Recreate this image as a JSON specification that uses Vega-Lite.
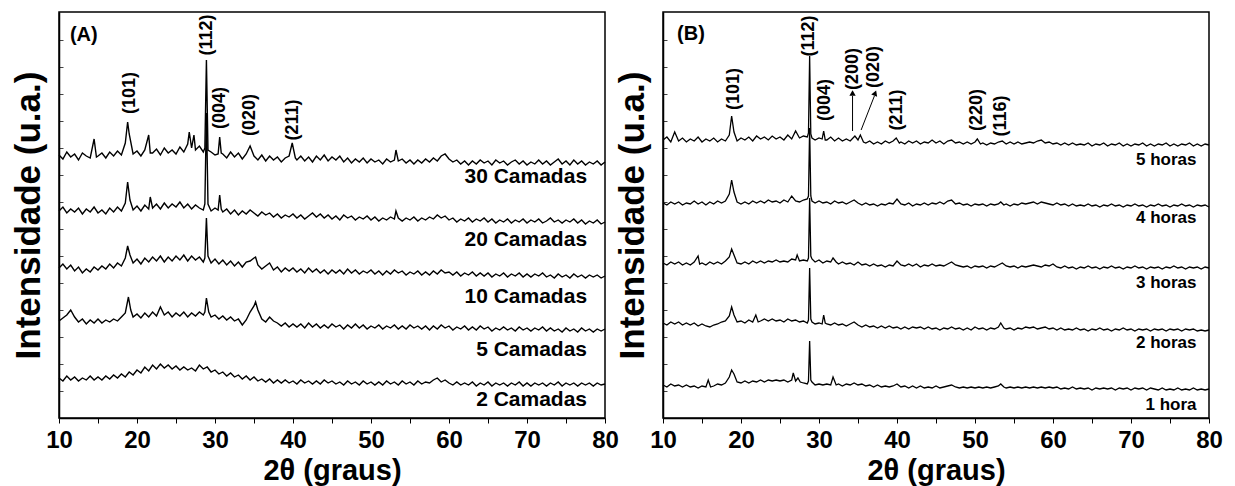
{
"$schema":"https://vega.github.io/schema/vega-lite/v6.json",
"padding":{"left":10,"top":11,"right":20,"bottom":0},
"config":{"font":"Liberation Sans","view":{"stroke":"black","strokeWidth":1.5},"text":{"fontWeight":"bold","color":"black","font":"Liberation Sans"}},
"datasets":{
"A":[
{"s":1,"x":10,"y":263},{"s":1,"x":10.5,"y":259},{"s":1,"x":11,"y":266},{"s":1,"x":11.5,"y":261},{"s":1,"x":12,"y":264},{"s":1,"x":12.5,"y":258},{"s":1,"x":13,"y":265},{"s":1,"x":13.5,"y":262},{"s":1,"x":14,"y":260},{"s":1,"x":14.5,"y":279},{"s":1,"x":14.8,"y":261},{"s":1,"x":15,"y":262},{"s":1,"x":15.5,"y":265},{"s":1,"x":16,"y":260},{"s":1,"x":16.5,"y":266},{"s":1,"x":17,"y":262},{"s":1,"x":17.5,"y":267},{"s":1,"x":18,"y":263},{"s":1,"x":18.5,"y":275},{"s":1,"x":18.8,"y":296},{"s":1,"x":19,"y":284},{"s":1,"x":19.5,"y":264},{"s":1,"x":20,"y":267},{"s":1,"x":20.5,"y":262},{"s":1,"x":21,"y":268},{"s":1,"x":21.5,"y":283},{"s":1,"x":21.7,"y":265},{"s":1,"x":22,"y":265},{"s":1,"x":22.5,"y":269},{"s":1,"x":23,"y":263},{"s":1,"x":23.5,"y":270},{"s":1,"x":24,"y":265},{"s":1,"x":24.5,"y":268},{"s":1,"x":25,"y":264},{"s":1,"x":25.5,"y":271},{"s":1,"x":26,"y":266},{"s":1,"x":26.5,"y":274},{"s":1,"x":26.7,"y":286},{"s":1,"x":27,"y":270},{"s":1,"x":27.3,"y":283},{"s":1,"x":27.5,"y":268},{"s":1,"x":28,"y":272},{"s":1,"x":28.5,"y":266},{"s":1,"x":28.7,"y":270},{"s":1,"x":28.9,"y":358},{"s":1,"x":29.1,"y":268},{"s":1,"x":29.5,"y":266},{"s":1,"x":30,"y":263},{"s":1,"x":30.4,"y":264},{"s":1,"x":30.6,"y":281},{"s":1,"x":30.8,"y":265},{"s":1,"x":31,"y":264},{"s":1,"x":31.5,"y":260},{"s":1,"x":32,"y":266},{"s":1,"x":32.5,"y":261},{"s":1,"x":33,"y":265},{"s":1,"x":33.5,"y":259},{"s":1,"x":34,"y":264},{"s":1,"x":34.5,"y":272},{"s":1,"x":35,"y":262},{"s":1,"x":35.5,"y":258},{"s":1,"x":36,"y":263},{"s":1,"x":36.5,"y":257},{"s":1,"x":37,"y":262},{"s":1,"x":37.5,"y":258},{"s":1,"x":38,"y":261},{"s":1,"x":38.5,"y":256},{"s":1,"x":39,"y":260},{"s":1,"x":39.5,"y":262},{"s":1,"x":39.9,"y":275},{"s":1,"x":40.3,"y":260},{"s":1,"x":40.5,"y":258},{"s":1,"x":41,"y":262},{"s":1,"x":41.5,"y":257},{"s":1,"x":42,"y":261},{"s":1,"x":42.5,"y":256},{"s":1,"x":43,"y":262},{"s":1,"x":43.5,"y":258},{"s":1,"x":44,"y":263},{"s":1,"x":44.5,"y":257},{"s":1,"x":45,"y":261},{"s":1,"x":45.5,"y":258},{"s":1,"x":46,"y":262},{"s":1,"x":46.5,"y":256},{"s":1,"x":47,"y":260},{"s":1,"x":47.5,"y":255},{"s":1,"x":48,"y":259},{"s":1,"x":48.5,"y":256},{"s":1,"x":49,"y":260},{"s":1,"x":49.5,"y":255},{"s":1,"x":50,"y":259},{"s":1,"x":50.5,"y":256},{"s":1,"x":51,"y":258},{"s":1,"x":51.5,"y":254},{"s":1,"x":52,"y":259},{"s":1,"x":52.5,"y":256},{"s":1,"x":53,"y":258},{"s":1,"x":53.2,"y":268},{"s":1,"x":53.5,"y":257},{"s":1,"x":54,"y":259},{"s":1,"x":54.5,"y":255},{"s":1,"x":55,"y":258},{"s":1,"x":55.5,"y":254},{"s":1,"x":56,"y":258},{"s":1,"x":56.5,"y":255},{"s":1,"x":57,"y":259},{"s":1,"x":57.5,"y":256},{"s":1,"x":58,"y":260},{"s":1,"x":58.5,"y":257},{"s":1,"x":59,"y":262},{"s":1,"x":59.5,"y":264},{"s":1,"x":60,"y":259},{"s":1,"x":60.5,"y":256},{"s":1,"x":61,"y":258},{"s":1,"x":61.5,"y":254},{"s":1,"x":62,"y":257},{"s":1,"x":62.5,"y":253},{"s":1,"x":63,"y":257},{"s":1,"x":63.5,"y":254},{"s":1,"x":64,"y":258},{"s":1,"x":64.5,"y":255},{"s":1,"x":65,"y":257},{"s":1,"x":65.5,"y":253},{"s":1,"x":66,"y":258},{"s":1,"x":66.5,"y":255},{"s":1,"x":67,"y":257},{"s":1,"x":67.5,"y":253},{"s":1,"x":68,"y":256},{"s":1,"x":68.5,"y":258},{"s":1,"x":69,"y":254},{"s":1,"x":69.5,"y":257},{"s":1,"x":70,"y":253},{"s":1,"x":70.5,"y":256},{"s":1,"x":71,"y":254},{"s":1,"x":71.5,"y":258},{"s":1,"x":72,"y":254},{"s":1,"x":72.5,"y":257},{"s":1,"x":73,"y":253},{"s":1,"x":73.5,"y":256},{"s":1,"x":74,"y":259},{"s":1,"x":74.5,"y":254},{"s":1,"x":75,"y":257},{"s":1,"x":75.5,"y":253},{"s":1,"x":76,"y":258},{"s":1,"x":76.5,"y":254},{"s":1,"x":77,"y":257},{"s":1,"x":77.5,"y":253},{"s":1,"x":78,"y":256},{"s":1,"x":78.5,"y":254},{"s":1,"x":79,"y":257},{"s":1,"x":79.5,"y":253},{"s":1,"x":80,"y":256},
{"s":2,"x":10,"y":207},{"s":2,"x":10.5,"y":211},{"s":2,"x":11,"y":205},{"s":2,"x":11.5,"y":209},{"s":2,"x":12,"y":206},{"s":2,"x":12.5,"y":210},{"s":2,"x":13,"y":204},{"s":2,"x":13.5,"y":209},{"s":2,"x":14,"y":206},{"s":2,"x":14.5,"y":211},{"s":2,"x":15,"y":205},{"s":2,"x":15.5,"y":208},{"s":2,"x":16,"y":204},{"s":2,"x":16.5,"y":210},{"s":2,"x":17,"y":206},{"s":2,"x":17.5,"y":211},{"s":2,"x":18,"y":207},{"s":2,"x":18.5,"y":215},{"s":2,"x":18.8,"y":236},{"s":2,"x":19.1,"y":218},{"s":2,"x":19.5,"y":208},{"s":2,"x":20,"y":212},{"s":2,"x":20.5,"y":207},{"s":2,"x":21,"y":213},{"s":2,"x":21.5,"y":209},{"s":2,"x":21.7,"y":221},{"s":2,"x":22,"y":210},{"s":2,"x":22.5,"y":214},{"s":2,"x":23,"y":209},{"s":2,"x":23.5,"y":215},{"s":2,"x":24,"y":210},{"s":2,"x":24.5,"y":214},{"s":2,"x":25,"y":211},{"s":2,"x":25.5,"y":216},{"s":2,"x":26,"y":210},{"s":2,"x":26.5,"y":214},{"s":2,"x":27,"y":209},{"s":2,"x":27.5,"y":213},{"s":2,"x":28,"y":210},{"s":2,"x":28.5,"y":208},{"s":2,"x":28.7,"y":214},{"s":2,"x":28.9,"y":305},{"s":2,"x":29.1,"y":214},{"s":2,"x":29.5,"y":207},{"s":2,"x":30,"y":210},{"s":2,"x":30.4,"y":208},{"s":2,"x":30.6,"y":223},{"s":2,"x":30.8,"y":209},{"s":2,"x":31,"y":206},{"s":2,"x":31.5,"y":209},{"s":2,"x":32,"y":204},{"s":2,"x":32.5,"y":208},{"s":2,"x":33,"y":203},{"s":2,"x":33.5,"y":207},{"s":2,"x":34,"y":204},{"s":2,"x":34.5,"y":208},{"s":2,"x":35,"y":205},{"s":2,"x":35.5,"y":202},{"s":2,"x":36,"y":206},{"s":2,"x":36.5,"y":203},{"s":2,"x":37,"y":205},{"s":2,"x":37.5,"y":201},{"s":2,"x":38,"y":204},{"s":2,"x":38.5,"y":200},{"s":2,"x":39,"y":203},{"s":2,"x":39.5,"y":201},{"s":2,"x":40,"y":204},{"s":2,"x":40.5,"y":200},{"s":2,"x":41,"y":203},{"s":2,"x":41.5,"y":199},{"s":2,"x":42,"y":202},{"s":2,"x":42.5,"y":205},{"s":2,"x":43,"y":201},{"s":2,"x":43.5,"y":204},{"s":2,"x":44,"y":200},{"s":2,"x":44.5,"y":203},{"s":2,"x":45,"y":199},{"s":2,"x":45.5,"y":202},{"s":2,"x":46,"y":198},{"s":2,"x":46.5,"y":203},{"s":2,"x":47,"y":200},{"s":2,"x":47.5,"y":202},{"s":2,"x":48,"y":198},{"s":2,"x":48.5,"y":201},{"s":2,"x":49,"y":199},{"s":2,"x":49.5,"y":202},{"s":2,"x":50,"y":198},{"s":2,"x":50.5,"y":201},{"s":2,"x":51,"y":197},{"s":2,"x":51.5,"y":200},{"s":2,"x":52,"y":198},{"s":2,"x":52.5,"y":201},{"s":2,"x":53,"y":199},{"s":2,"x":53.2,"y":207},{"s":2,"x":53.5,"y":200},{"s":2,"x":54,"y":197},{"s":2,"x":54.5,"y":200},{"s":2,"x":55,"y":198},{"s":2,"x":55.5,"y":201},{"s":2,"x":56,"y":197},{"s":2,"x":56.5,"y":200},{"s":2,"x":57,"y":198},{"s":2,"x":57.5,"y":201},{"s":2,"x":58,"y":199},{"s":2,"x":58.5,"y":203},{"s":2,"x":59,"y":200},{"s":2,"x":59.5,"y":202},{"s":2,"x":60,"y":198},{"s":2,"x":60.5,"y":200},{"s":2,"x":61,"y":196},{"s":2,"x":61.5,"y":199},{"s":2,"x":62,"y":197},{"s":2,"x":62.5,"y":200},{"s":2,"x":63,"y":196},{"s":2,"x":63.5,"y":199},{"s":2,"x":64,"y":197},{"s":2,"x":64.5,"y":200},{"s":2,"x":65,"y":196},{"s":2,"x":65.5,"y":199},{"s":2,"x":66,"y":195},{"s":2,"x":66.5,"y":198},{"s":2,"x":67,"y":196},{"s":2,"x":67.5,"y":199},{"s":2,"x":68,"y":195},{"s":2,"x":68.5,"y":198},{"s":2,"x":69,"y":196},{"s":2,"x":69.5,"y":199},{"s":2,"x":70,"y":195},{"s":2,"x":70.5,"y":198},{"s":2,"x":71,"y":196},{"s":2,"x":71.5,"y":199},{"s":2,"x":72,"y":195},{"s":2,"x":72.5,"y":197},{"s":2,"x":73,"y":200},{"s":2,"x":73.5,"y":196},{"s":2,"x":74,"y":198},{"s":2,"x":74.5,"y":195},{"s":2,"x":75,"y":198},{"s":2,"x":75.5,"y":196},{"s":2,"x":76,"y":199},{"s":2,"x":76.5,"y":195},{"s":2,"x":77,"y":198},{"s":2,"x":77.5,"y":194},{"s":2,"x":78,"y":197},{"s":2,"x":78.5,"y":195},{"s":2,"x":79,"y":198},{"s":2,"x":79.5,"y":194},{"s":2,"x":80,"y":196},
{"s":3,"x":10,"y":150},{"s":3,"x":10.5,"y":154},{"s":3,"x":11,"y":149},{"s":3,"x":11.5,"y":153},{"s":3,"x":12,"y":147},{"s":3,"x":12.5,"y":151},{"s":3,"x":13,"y":145},{"s":3,"x":13.5,"y":149},{"s":3,"x":14,"y":146},{"s":3,"x":14.5,"y":151},{"s":3,"x":15,"y":148},{"s":3,"x":15.5,"y":152},{"s":3,"x":16,"y":149},{"s":3,"x":16.5,"y":154},{"s":3,"x":17,"y":150},{"s":3,"x":17.5,"y":155},{"s":3,"x":18,"y":152},{"s":3,"x":18.5,"y":160},{"s":3,"x":18.8,"y":172},{"s":3,"x":19.1,"y":163},{"s":3,"x":19.5,"y":155},{"s":3,"x":20,"y":159},{"s":3,"x":20.5,"y":154},{"s":3,"x":21,"y":160},{"s":3,"x":21.5,"y":156},{"s":3,"x":22,"y":161},{"s":3,"x":22.5,"y":157},{"s":3,"x":23,"y":162},{"s":3,"x":23.5,"y":156},{"s":3,"x":24,"y":161},{"s":3,"x":24.5,"y":157},{"s":3,"x":25,"y":162},{"s":3,"x":25.5,"y":158},{"s":3,"x":26,"y":163},{"s":3,"x":26.5,"y":157},{"s":3,"x":27,"y":162},{"s":3,"x":27.5,"y":158},{"s":3,"x":28,"y":161},{"s":3,"x":28.5,"y":156},{"s":3,"x":28.7,"y":160},{"s":3,"x":28.9,"y":200},{"s":3,"x":29.1,"y":162},{"s":3,"x":29.5,"y":155},{"s":3,"x":30,"y":159},{"s":3,"x":30.5,"y":154},{"s":3,"x":31,"y":158},{"s":3,"x":31.5,"y":153},{"s":3,"x":32,"y":157},{"s":3,"x":32.5,"y":152},{"s":3,"x":33,"y":156},{"s":3,"x":33.5,"y":151},{"s":3,"x":34,"y":156},{"s":3,"x":34.5,"y":157},{"s":3,"x":35,"y":160},{"s":3,"x":35.2,"y":161},{"s":3,"x":35.5,"y":153},{"s":3,"x":36,"y":149},{"s":3,"x":36.5,"y":152},{"s":3,"x":37,"y":155},{"s":3,"x":37.5,"y":148},{"s":3,"x":38,"y":151},{"s":3,"x":38.5,"y":146},{"s":3,"x":39,"y":150},{"s":3,"x":39.5,"y":147},{"s":3,"x":40,"y":150},{"s":3,"x":40.5,"y":146},{"s":3,"x":41,"y":149},{"s":3,"x":41.5,"y":145},{"s":3,"x":42,"y":150},{"s":3,"x":42.5,"y":146},{"s":3,"x":43,"y":149},{"s":3,"x":43.5,"y":145},{"s":3,"x":44,"y":148},{"s":3,"x":44.5,"y":144},{"s":3,"x":45,"y":148},{"s":3,"x":45.5,"y":145},{"s":3,"x":46,"y":148},{"s":3,"x":46.5,"y":144},{"s":3,"x":47,"y":149},{"s":3,"x":47.5,"y":145},{"s":3,"x":48,"y":148},{"s":3,"x":48.5,"y":144},{"s":3,"x":49,"y":147},{"s":3,"x":49.5,"y":145},{"s":3,"x":50,"y":148},{"s":3,"x":50.5,"y":144},{"s":3,"x":51,"y":147},{"s":3,"x":51.5,"y":143},{"s":3,"x":52,"y":147},{"s":3,"x":52.5,"y":144},{"s":3,"x":53,"y":148},{"s":3,"x":53.5,"y":145},{"s":3,"x":54,"y":147},{"s":3,"x":54.5,"y":143},{"s":3,"x":55,"y":146},{"s":3,"x":55.5,"y":144},{"s":3,"x":56,"y":147},{"s":3,"x":56.5,"y":143},{"s":3,"x":57,"y":146},{"s":3,"x":57.5,"y":143},{"s":3,"x":58,"y":147},{"s":3,"x":58.5,"y":144},{"s":3,"x":59,"y":148},{"s":3,"x":59.5,"y":145},{"s":3,"x":60,"y":146},{"s":3,"x":60.5,"y":143},{"s":3,"x":61,"y":146},{"s":3,"x":61.5,"y":142},{"s":3,"x":62,"y":145},{"s":3,"x":62.5,"y":143},{"s":3,"x":63,"y":146},{"s":3,"x":63.5,"y":142},{"s":3,"x":64,"y":145},{"s":3,"x":64.5,"y":142},{"s":3,"x":65,"y":145},{"s":3,"x":65.5,"y":141},{"s":3,"x":66,"y":144},{"s":3,"x":66.5,"y":142},{"s":3,"x":67,"y":145},{"s":3,"x":67.5,"y":141},{"s":3,"x":68,"y":144},{"s":3,"x":68.5,"y":142},{"s":3,"x":69,"y":145},{"s":3,"x":69.5,"y":141},{"s":3,"x":70,"y":144},{"s":3,"x":70.5,"y":141},{"s":3,"x":71,"y":144},{"s":3,"x":71.5,"y":142},{"s":3,"x":72,"y":145},{"s":3,"x":72.5,"y":141},{"s":3,"x":73,"y":143},{"s":3,"x":73.5,"y":140},{"s":3,"x":74,"y":144},{"s":3,"x":74.5,"y":141},{"s":3,"x":75,"y":143},{"s":3,"x":75.5,"y":140},{"s":3,"x":76,"y":144},{"s":3,"x":76.5,"y":141},{"s":3,"x":77,"y":143},{"s":3,"x":77.5,"y":140},{"s":3,"x":78,"y":143},{"s":3,"x":78.5,"y":141},{"s":3,"x":79,"y":143},{"s":3,"x":79.5,"y":140},{"s":3,"x":80,"y":142},
{"s":4,"x":10,"y":97},{"s":4,"x":10.5,"y":100},{"s":4,"x":11,"y":103},{"s":4,"x":11.5,"y":108},{"s":4,"x":12,"y":101},{"s":4,"x":12.5,"y":96},{"s":4,"x":13,"y":99},{"s":4,"x":13.5,"y":94},{"s":4,"x":14,"y":98},{"s":4,"x":14.5,"y":95},{"s":4,"x":15,"y":99},{"s":4,"x":15.5,"y":95},{"s":4,"x":16,"y":98},{"s":4,"x":16.5,"y":96},{"s":4,"x":17,"y":99},{"s":4,"x":17.5,"y":97},{"s":4,"x":18,"y":101},{"s":4,"x":18.5,"y":105},{"s":4,"x":18.9,"y":121},{"s":4,"x":19.2,"y":108},{"s":4,"x":19.5,"y":101},{"s":4,"x":20,"y":104},{"s":4,"x":20.5,"y":100},{"s":4,"x":21,"y":105},{"s":4,"x":21.5,"y":101},{"s":4,"x":22,"y":106},{"s":4,"x":22.5,"y":102},{"s":4,"x":23,"y":111},{"s":4,"x":23.5,"y":103},{"s":4,"x":24,"y":106},{"s":4,"x":24.5,"y":101},{"s":4,"x":25,"y":105},{"s":4,"x":25.5,"y":102},{"s":4,"x":26,"y":106},{"s":4,"x":26.5,"y":101},{"s":4,"x":27,"y":105},{"s":4,"x":27.5,"y":102},{"s":4,"x":28,"y":106},{"s":4,"x":28.5,"y":103},{"s":4,"x":28.7,"y":106},{"s":4,"x":28.9,"y":120},{"s":4,"x":29.2,"y":106},{"s":4,"x":29.5,"y":101},{"s":4,"x":30,"y":103},{"s":4,"x":30.5,"y":99},{"s":4,"x":31,"y":102},{"s":4,"x":31.5,"y":98},{"s":4,"x":32,"y":101},{"s":4,"x":32.5,"y":97},{"s":4,"x":33,"y":99},{"s":4,"x":33.5,"y":93},{"s":4,"x":34,"y":98},{"s":4,"x":34.5,"y":106},{"s":4,"x":35,"y":112},{"s":4,"x":35.2,"y":116},{"s":4,"x":35.5,"y":108},{"s":4,"x":36,"y":99},{"s":4,"x":36.5,"y":96},{"s":4,"x":37,"y":101},{"s":4,"x":37.5,"y":97},{"s":4,"x":38,"y":95},{"s":4,"x":38.5,"y":92},{"s":4,"x":39,"y":95},{"s":4,"x":39.5,"y":91},{"s":4,"x":40,"y":94},{"s":4,"x":40.5,"y":91},{"s":4,"x":41,"y":94},{"s":4,"x":41.5,"y":90},{"s":4,"x":42,"y":95},{"s":4,"x":42.5,"y":91},{"s":4,"x":43,"y":94},{"s":4,"x":43.5,"y":90},{"s":4,"x":44,"y":93},{"s":4,"x":44.5,"y":90},{"s":4,"x":45,"y":94},{"s":4,"x":45.5,"y":91},{"s":4,"x":46,"y":93},{"s":4,"x":46.5,"y":89},{"s":4,"x":47,"y":93},{"s":4,"x":47.5,"y":90},{"s":4,"x":48,"y":94},{"s":4,"x":48.5,"y":90},{"s":4,"x":49,"y":93},{"s":4,"x":49.5,"y":89},{"s":4,"x":50,"y":92},{"s":4,"x":50.5,"y":90},{"s":4,"x":51,"y":93},{"s":4,"x":51.5,"y":89},{"s":4,"x":52,"y":92},{"s":4,"x":52.5,"y":90},{"s":4,"x":53,"y":93},{"s":4,"x":53.5,"y":89},{"s":4,"x":54,"y":92},{"s":4,"x":54.5,"y":89},{"s":4,"x":55,"y":93},{"s":4,"x":55.5,"y":90},{"s":4,"x":56,"y":92},{"s":4,"x":56.5,"y":89},{"s":4,"x":57,"y":92},{"s":4,"x":57.5,"y":88},{"s":4,"x":58,"y":92},{"s":4,"x":58.5,"y":89},{"s":4,"x":59,"y":93},{"s":4,"x":59.5,"y":90},{"s":4,"x":60,"y":92},{"s":4,"x":60.5,"y":88},{"s":4,"x":61,"y":91},{"s":4,"x":61.5,"y":89},{"s":4,"x":62,"y":92},{"s":4,"x":62.5,"y":88},{"s":4,"x":63,"y":91},{"s":4,"x":63.5,"y":88},{"s":4,"x":64,"y":92},{"s":4,"x":64.5,"y":89},{"s":4,"x":65,"y":91},{"s":4,"x":65.5,"y":87},{"s":4,"x":66,"y":90},{"s":4,"x":66.5,"y":88},{"s":4,"x":67,"y":91},{"s":4,"x":67.5,"y":88},{"s":4,"x":68,"y":90},{"s":4,"x":68.5,"y":87},{"s":4,"x":69,"y":91},{"s":4,"x":69.5,"y":88},{"s":4,"x":70,"y":90},{"s":4,"x":70.5,"y":87},{"s":4,"x":71,"y":90},{"s":4,"x":71.5,"y":88},{"s":4,"x":72,"y":91},{"s":4,"x":72.5,"y":87},{"s":4,"x":73,"y":90},{"s":4,"x":73.5,"y":87},{"s":4,"x":74,"y":89},{"s":4,"x":74.5,"y":86},{"s":4,"x":75,"y":90},{"s":4,"x":75.5,"y":87},{"s":4,"x":76,"y":89},{"s":4,"x":76.5,"y":86},{"s":4,"x":77,"y":90},{"s":4,"x":77.5,"y":87},{"s":4,"x":78,"y":89},{"s":4,"x":78.5,"y":86},{"s":4,"x":79,"y":89},{"s":4,"x":79.5,"y":87},{"s":4,"x":80,"y":89},
{"s":5,"x":10,"y":40},{"s":5,"x":10.5,"y":37},{"s":5,"x":11,"y":42},{"s":5,"x":11.5,"y":38},{"s":5,"x":12,"y":41},{"s":5,"x":12.5,"y":37},{"s":5,"x":13,"y":40},{"s":5,"x":13.5,"y":38},{"s":5,"x":14,"y":42},{"s":5,"x":14.5,"y":38},{"s":5,"x":15,"y":41},{"s":5,"x":15.5,"y":38},{"s":5,"x":16,"y":42},{"s":5,"x":16.5,"y":39},{"s":5,"x":17,"y":43},{"s":5,"x":17.5,"y":40},{"s":5,"x":18,"y":44},{"s":5,"x":18.5,"y":41},{"s":5,"x":19,"y":46},{"s":5,"x":19.5,"y":43},{"s":5,"x":20,"y":48},{"s":5,"x":20.5,"y":45},{"s":5,"x":21,"y":51},{"s":5,"x":21.5,"y":47},{"s":5,"x":22,"y":53},{"s":5,"x":22.5,"y":49},{"s":5,"x":23,"y":54},{"s":5,"x":23.5,"y":50},{"s":5,"x":24,"y":53},{"s":5,"x":24.5,"y":49},{"s":5,"x":25,"y":52},{"s":5,"x":25.5,"y":48},{"s":5,"x":26,"y":51},{"s":5,"x":26.5,"y":48},{"s":5,"x":27,"y":50},{"s":5,"x":27.5,"y":47},{"s":5,"x":28,"y":53},{"s":5,"x":28.5,"y":49},{"s":5,"x":29,"y":51},{"s":5,"x":29.5,"y":46},{"s":5,"x":30,"y":48},{"s":5,"x":30.5,"y":44},{"s":5,"x":31,"y":46},{"s":5,"x":31.5,"y":42},{"s":5,"x":32,"y":45},{"s":5,"x":32.5,"y":41},{"s":5,"x":33,"y":43},{"s":5,"x":33.5,"y":39},{"s":5,"x":34,"y":42},{"s":5,"x":34.5,"y":38},{"s":5,"x":35,"y":41},{"s":5,"x":35.5,"y":37},{"s":5,"x":36,"y":39},{"s":5,"x":36.5,"y":36},{"s":5,"x":37,"y":39},{"s":5,"x":37.5,"y":35},{"s":5,"x":38,"y":38},{"s":5,"x":38.5,"y":35},{"s":5,"x":39,"y":38},{"s":5,"x":39.5,"y":35},{"s":5,"x":40,"y":37},{"s":5,"x":40.5,"y":34},{"s":5,"x":41,"y":38},{"s":5,"x":41.5,"y":35},{"s":5,"x":42,"y":37},{"s":5,"x":42.5,"y":34},{"s":5,"x":43,"y":37},{"s":5,"x":43.5,"y":34},{"s":5,"x":44,"y":38},{"s":5,"x":44.5,"y":35},{"s":5,"x":45,"y":37},{"s":5,"x":45.5,"y":34},{"s":5,"x":46,"y":36},{"s":5,"x":46.5,"y":33},{"s":5,"x":47,"y":37},{"s":5,"x":47.5,"y":34},{"s":5,"x":48,"y":36},{"s":5,"x":48.5,"y":33},{"s":5,"x":49,"y":37},{"s":5,"x":49.5,"y":34},{"s":5,"x":50,"y":36},{"s":5,"x":50.5,"y":33},{"s":5,"x":51,"y":36},{"s":5,"x":51.5,"y":33},{"s":5,"x":52,"y":37},{"s":5,"x":52.5,"y":34},{"s":5,"x":53,"y":36},{"s":5,"x":53.5,"y":33},{"s":5,"x":54,"y":37},{"s":5,"x":54.5,"y":34},{"s":5,"x":55,"y":36},{"s":5,"x":55.5,"y":33},{"s":5,"x":56,"y":37},{"s":5,"x":56.5,"y":34},{"s":5,"x":57,"y":36},{"s":5,"x":57.5,"y":35},{"s":5,"x":58,"y":38},{"s":5,"x":58.5,"y":40},{"s":5,"x":59,"y":36},{"s":5,"x":59.5,"y":38},{"s":5,"x":60,"y":35},{"s":5,"x":60.5,"y":33},{"s":5,"x":61,"y":36},{"s":5,"x":61.5,"y":33},{"s":5,"x":62,"y":35},{"s":5,"x":62.5,"y":33},{"s":5,"x":63,"y":36},{"s":5,"x":63.5,"y":32},{"s":5,"x":64,"y":35},{"s":5,"x":64.5,"y":33},{"s":5,"x":65,"y":36},{"s":5,"x":65.5,"y":32},{"s":5,"x":66,"y":35},{"s":5,"x":66.5,"y":33},{"s":5,"x":67,"y":35},{"s":5,"x":67.5,"y":32},{"s":5,"x":68,"y":35},{"s":5,"x":68.5,"y":33},{"s":5,"x":69,"y":36},{"s":5,"x":69.5,"y":32},{"s":5,"x":70,"y":35},{"s":5,"x":70.5,"y":32},{"s":5,"x":71,"y":35},{"s":5,"x":71.5,"y":33},{"s":5,"x":72,"y":35},{"s":5,"x":72.5,"y":32},{"s":5,"x":73,"y":35},{"s":5,"x":73.5,"y":33},{"s":5,"x":74,"y":36},{"s":5,"x":74.5,"y":32},{"s":5,"x":75,"y":35},{"s":5,"x":75.5,"y":33},{"s":5,"x":76,"y":35},{"s":5,"x":76.5,"y":32},{"s":5,"x":77,"y":35},{"s":5,"x":77.5,"y":33},{"s":5,"x":78,"y":35},{"s":5,"x":78.5,"y":32},{"s":5,"x":79,"y":35},{"s":5,"x":79.5,"y":33},{"s":5,"x":80,"y":34}
],
"B":[
{"s":1,"x":10,"y":278},{"s":1,"x":10.5,"y":281},{"s":1,"x":11,"y":276},{"s":1,"x":11.5,"y":286},{"s":1,"x":12,"y":277},{"s":1,"x":12.5,"y":280},{"s":1,"x":13,"y":276},{"s":1,"x":13.5,"y":279},{"s":1,"x":14,"y":277},{"s":1,"x":14.5,"y":281},{"s":1,"x":15,"y":276},{"s":1,"x":15.5,"y":279},{"s":1,"x":16,"y":277},{"s":1,"x":16.5,"y":280},{"s":1,"x":17,"y":276},{"s":1,"x":17.5,"y":279},{"s":1,"x":18,"y":277},{"s":1,"x":18.5,"y":283},{"s":1,"x":18.8,"y":302},{"s":1,"x":19.1,"y":286},{"s":1,"x":19.5,"y":277},{"s":1,"x":20,"y":280},{"s":1,"x":20.5,"y":278},{"s":1,"x":21,"y":281},{"s":1,"x":21.5,"y":277},{"s":1,"x":22,"y":282},{"s":1,"x":22.5,"y":279},{"s":1,"x":23,"y":281},{"s":1,"x":23.5,"y":278},{"s":1,"x":24,"y":282},{"s":1,"x":24.5,"y":279},{"s":1,"x":25,"y":281},{"s":1,"x":25.5,"y":278},{"s":1,"x":26,"y":283},{"s":1,"x":26.5,"y":279},{"s":1,"x":27,"y":287},{"s":1,"x":27.5,"y":280},{"s":1,"x":28,"y":282},{"s":1,"x":28.5,"y":281},{"s":1,"x":28.65,"y":285},{"s":1,"x":28.8,"y":362},{"s":1,"x":28.95,"y":284},{"s":1,"x":29.1,"y":280},{"s":1,"x":29.5,"y":278},{"s":1,"x":30,"y":280},{"s":1,"x":30.4,"y":279},{"s":1,"x":30.6,"y":287},{"s":1,"x":30.8,"y":278},{"s":1,"x":31,"y":278},{"s":1,"x":31.5,"y":281},{"s":1,"x":32,"y":277},{"s":1,"x":32.5,"y":280},{"s":1,"x":33,"y":277},{"s":1,"x":33.5,"y":279},{"s":1,"x":34,"y":277},{"s":1,"x":34.6,"y":282},{"s":1,"x":35,"y":278},{"s":1,"x":35.3,"y":283},{"s":1,"x":35.7,"y":276},{"s":1,"x":36,"y":275},{"s":1,"x":36.5,"y":277},{"s":1,"x":37,"y":274},{"s":1,"x":37.5,"y":276},{"s":1,"x":38,"y":274},{"s":1,"x":38.5,"y":277},{"s":1,"x":39,"y":275},{"s":1,"x":39.5,"y":277},{"s":1,"x":39.9,"y":280},{"s":1,"x":40.3,"y":275},{"s":1,"x":40.5,"y":276},{"s":1,"x":41,"y":274},{"s":1,"x":41.5,"y":277},{"s":1,"x":42,"y":275},{"s":1,"x":42.5,"y":277},{"s":1,"x":43,"y":274},{"s":1,"x":43.5,"y":276},{"s":1,"x":44,"y":275},{"s":1,"x":44.5,"y":278},{"s":1,"x":45,"y":275},{"s":1,"x":45.5,"y":277},{"s":1,"x":46,"y":274},{"s":1,"x":46.5,"y":277},{"s":1,"x":47,"y":278},{"s":1,"x":47.5,"y":275},{"s":1,"x":48,"y":276},{"s":1,"x":48.5,"y":274},{"s":1,"x":49,"y":276},{"s":1,"x":49.5,"y":274},{"s":1,"x":50,"y":276},{"s":1,"x":50.3,"y":279},{"s":1,"x":50.7,"y":274},{"s":1,"x":51,"y":275},{"s":1,"x":51.5,"y":273},{"s":1,"x":52,"y":275},{"s":1,"x":52.5,"y":274},{"s":1,"x":53,"y":276},{"s":1,"x":53.5,"y":277},{"s":1,"x":54,"y":274},{"s":1,"x":54.5,"y":276},{"s":1,"x":55,"y":274},{"s":1,"x":55.5,"y":276},{"s":1,"x":56,"y":274},{"s":1,"x":56.5,"y":275},{"s":1,"x":57,"y":276},{"s":1,"x":57.5,"y":275},{"s":1,"x":58,"y":277},{"s":1,"x":58.5,"y":278},{"s":1,"x":59,"y":275},{"s":1,"x":59.5,"y":276},{"s":1,"x":60,"y":274},{"s":1,"x":60.5,"y":275},{"s":1,"x":61,"y":273},{"s":1,"x":61.5,"y":275},{"s":1,"x":62,"y":273},{"s":1,"x":62.5,"y":275},{"s":1,"x":63,"y":273},{"s":1,"x":63.5,"y":274},{"s":1,"x":64,"y":273},{"s":1,"x":64.5,"y":275},{"s":1,"x":65,"y":272},{"s":1,"x":65.5,"y":274},{"s":1,"x":66,"y":273},{"s":1,"x":66.5,"y":275},{"s":1,"x":67,"y":272},{"s":1,"x":67.5,"y":274},{"s":1,"x":68,"y":273},{"s":1,"x":68.5,"y":275},{"s":1,"x":69,"y":272},{"s":1,"x":69.5,"y":274},{"s":1,"x":70,"y":272},{"s":1,"x":70.5,"y":274},{"s":1,"x":71,"y":273},{"s":1,"x":71.5,"y":275},{"s":1,"x":72,"y":272},{"s":1,"x":72.5,"y":274},{"s":1,"x":73,"y":272},{"s":1,"x":73.5,"y":274},{"s":1,"x":74,"y":273},{"s":1,"x":74.5,"y":275},{"s":1,"x":75,"y":272},{"s":1,"x":75.5,"y":274},{"s":1,"x":76,"y":272},{"s":1,"x":76.5,"y":274},{"s":1,"x":77,"y":273},{"s":1,"x":77.5,"y":275},{"s":1,"x":78,"y":272},{"s":1,"x":78.5,"y":274},{"s":1,"x":79,"y":272},{"s":1,"x":79.5,"y":274},{"s":1,"x":80,"y":273},
{"s":2,"x":10,"y":215},{"s":2,"x":10.5,"y":213},{"s":2,"x":11,"y":216},{"s":2,"x":11.5,"y":214},{"s":2,"x":12,"y":216},{"s":2,"x":12.5,"y":213},{"s":2,"x":13,"y":215},{"s":2,"x":13.5,"y":214},{"s":2,"x":14,"y":217},{"s":2,"x":14.5,"y":214},{"s":2,"x":15,"y":216},{"s":2,"x":15.5,"y":213},{"s":2,"x":16,"y":216},{"s":2,"x":16.5,"y":214},{"s":2,"x":17,"y":217},{"s":2,"x":17.5,"y":215},{"s":2,"x":18,"y":217},{"s":2,"x":18.5,"y":224},{"s":2,"x":18.8,"y":238},{"s":2,"x":19.1,"y":226},{"s":2,"x":19.5,"y":216},{"s":2,"x":20,"y":214},{"s":2,"x":20.5,"y":216},{"s":2,"x":21,"y":214},{"s":2,"x":21.5,"y":217},{"s":2,"x":22,"y":215},{"s":2,"x":22.5,"y":217},{"s":2,"x":23,"y":215},{"s":2,"x":23.5,"y":218},{"s":2,"x":24,"y":216},{"s":2,"x":24.5,"y":217},{"s":2,"x":25,"y":215},{"s":2,"x":25.5,"y":218},{"s":2,"x":26,"y":216},{"s":2,"x":26.5,"y":222},{"s":2,"x":27,"y":217},{"s":2,"x":27.5,"y":216},{"s":2,"x":28,"y":218},{"s":2,"x":28.5,"y":219},{"s":2,"x":28.65,"y":222},{"s":2,"x":28.8,"y":290},{"s":2,"x":28.95,"y":222},{"s":2,"x":29.1,"y":217},{"s":2,"x":29.5,"y":215},{"s":2,"x":30,"y":217},{"s":2,"x":30.5,"y":215},{"s":2,"x":31,"y":216},{"s":2,"x":31.5,"y":214},{"s":2,"x":32,"y":217},{"s":2,"x":32.5,"y":215},{"s":2,"x":33,"y":216},{"s":2,"x":33.5,"y":214},{"s":2,"x":34,"y":216},{"s":2,"x":34.5,"y":218},{"s":2,"x":35,"y":215},{"s":2,"x":35.5,"y":213},{"s":2,"x":36,"y":215},{"s":2,"x":36.5,"y":213},{"s":2,"x":37,"y":214},{"s":2,"x":37.5,"y":212},{"s":2,"x":38,"y":214},{"s":2,"x":38.5,"y":213},{"s":2,"x":39,"y":215},{"s":2,"x":39.5,"y":214},{"s":2,"x":40,"y":219},{"s":2,"x":40.5,"y":214},{"s":2,"x":41,"y":213},{"s":2,"x":41.5,"y":215},{"s":2,"x":42,"y":212},{"s":2,"x":42.5,"y":214},{"s":2,"x":43,"y":213},{"s":2,"x":43.5,"y":215},{"s":2,"x":44,"y":213},{"s":2,"x":44.5,"y":215},{"s":2,"x":45,"y":214},{"s":2,"x":45.5,"y":216},{"s":2,"x":46,"y":214},{"s":2,"x":46.5,"y":217},{"s":2,"x":47,"y":218},{"s":2,"x":47.5,"y":214},{"s":2,"x":48,"y":215},{"s":2,"x":48.5,"y":213},{"s":2,"x":49,"y":214},{"s":2,"x":49.5,"y":212},{"s":2,"x":50,"y":214},{"s":2,"x":50.5,"y":213},{"s":2,"x":51,"y":214},{"s":2,"x":51.5,"y":212},{"s":2,"x":52,"y":214},{"s":2,"x":52.5,"y":213},{"s":2,"x":53,"y":214},{"s":2,"x":53.3,"y":216},{"s":2,"x":53.7,"y":213},{"s":2,"x":54,"y":214},{"s":2,"x":54.5,"y":212},{"s":2,"x":55,"y":214},{"s":2,"x":55.5,"y":213},{"s":2,"x":56,"y":215},{"s":2,"x":56.5,"y":214},{"s":2,"x":57,"y":215},{"s":2,"x":57.5,"y":216},{"s":2,"x":58,"y":214},{"s":2,"x":58.5,"y":216},{"s":2,"x":59,"y":215},{"s":2,"x":59.5,"y":214},{"s":2,"x":60,"y":213},{"s":2,"x":60.5,"y":215},{"s":2,"x":61,"y":213},{"s":2,"x":61.5,"y":214},{"s":2,"x":62,"y":212},{"s":2,"x":62.5,"y":214},{"s":2,"x":63,"y":212},{"s":2,"x":63.5,"y":213},{"s":2,"x":64,"y":212},{"s":2,"x":64.5,"y":214},{"s":2,"x":65,"y":212},{"s":2,"x":65.5,"y":213},{"s":2,"x":66,"y":211},{"s":2,"x":66.5,"y":213},{"s":2,"x":67,"y":212},{"s":2,"x":67.5,"y":214},{"s":2,"x":68,"y":212},{"s":2,"x":68.5,"y":213},{"s":2,"x":69,"y":211},{"s":2,"x":69.5,"y":213},{"s":2,"x":70,"y":212},{"s":2,"x":70.5,"y":214},{"s":2,"x":71,"y":212},{"s":2,"x":71.5,"y":213},{"s":2,"x":72,"y":211},{"s":2,"x":72.5,"y":213},{"s":2,"x":73,"y":212},{"s":2,"x":73.5,"y":214},{"s":2,"x":74,"y":212},{"s":2,"x":74.5,"y":213},{"s":2,"x":75,"y":211},{"s":2,"x":75.5,"y":213},{"s":2,"x":76,"y":212},{"s":2,"x":76.5,"y":214},{"s":2,"x":77,"y":212},{"s":2,"x":77.5,"y":213},{"s":2,"x":78,"y":211},{"s":2,"x":78.5,"y":213},{"s":2,"x":79,"y":212},{"s":2,"x":79.5,"y":213},{"s":2,"x":80,"y":211},
{"s":3,"x":10,"y":155},{"s":3,"x":10.5,"y":153},{"s":3,"x":11,"y":156},{"s":3,"x":11.5,"y":154},{"s":3,"x":12,"y":156},{"s":3,"x":12.5,"y":153},{"s":3,"x":13,"y":155},{"s":3,"x":13.5,"y":153},{"s":3,"x":14,"y":156},{"s":3,"x":14.5,"y":162},{"s":3,"x":14.7,"y":154},{"s":3,"x":15,"y":155},{"s":3,"x":15.5,"y":153},{"s":3,"x":16,"y":156},{"s":3,"x":16.5,"y":154},{"s":3,"x":17,"y":156},{"s":3,"x":17.5,"y":154},{"s":3,"x":18,"y":157},{"s":3,"x":18.5,"y":161},{"s":3,"x":18.8,"y":169},{"s":3,"x":19.1,"y":163},{"s":3,"x":19.5,"y":155},{"s":3,"x":20,"y":154},{"s":3,"x":20.5,"y":156},{"s":3,"x":21,"y":154},{"s":3,"x":21.5,"y":157},{"s":3,"x":22,"y":155},{"s":3,"x":22.5,"y":157},{"s":3,"x":23,"y":155},{"s":3,"x":23.5,"y":157},{"s":3,"x":24,"y":156},{"s":3,"x":24.5,"y":158},{"s":3,"x":25,"y":156},{"s":3,"x":25.5,"y":157},{"s":3,"x":26,"y":156},{"s":3,"x":26.5,"y":159},{"s":3,"x":27,"y":158},{"s":3,"x":27.2,"y":163},{"s":3,"x":27.5,"y":157},{"s":3,"x":28,"y":158},{"s":3,"x":28.5,"y":157},{"s":3,"x":28.65,"y":160},{"s":3,"x":28.8,"y":220},{"s":3,"x":28.95,"y":162},{"s":3,"x":29.1,"y":159},{"s":3,"x":29.5,"y":156},{"s":3,"x":30,"y":158},{"s":3,"x":30.5,"y":155},{"s":3,"x":31,"y":157},{"s":3,"x":31.5,"y":156},{"s":3,"x":31.8,"y":160},{"s":3,"x":32.2,"y":156},{"s":3,"x":32.5,"y":154},{"s":3,"x":33,"y":156},{"s":3,"x":33.5,"y":154},{"s":3,"x":34,"y":155},{"s":3,"x":34.5,"y":153},{"s":3,"x":35,"y":156},{"s":3,"x":35.5,"y":153},{"s":3,"x":36,"y":154},{"s":3,"x":36.5,"y":152},{"s":3,"x":37,"y":154},{"s":3,"x":37.5,"y":152},{"s":3,"x":38,"y":153},{"s":3,"x":38.5,"y":151},{"s":3,"x":39,"y":153},{"s":3,"x":39.5,"y":152},{"s":3,"x":40,"y":157},{"s":3,"x":40.5,"y":153},{"s":3,"x":41,"y":152},{"s":3,"x":41.5,"y":154},{"s":3,"x":42,"y":152},{"s":3,"x":42.5,"y":154},{"s":3,"x":43,"y":151},{"s":3,"x":43.5,"y":153},{"s":3,"x":44,"y":152},{"s":3,"x":44.5,"y":154},{"s":3,"x":45,"y":152},{"s":3,"x":45.5,"y":153},{"s":3,"x":46,"y":152},{"s":3,"x":46.5,"y":154},{"s":3,"x":47,"y":156},{"s":3,"x":47.5,"y":153},{"s":3,"x":48,"y":152},{"s":3,"x":48.5,"y":151},{"s":3,"x":49,"y":152},{"s":3,"x":49.5,"y":150},{"s":3,"x":50,"y":152},{"s":3,"x":50.5,"y":151},{"s":3,"x":51,"y":152},{"s":3,"x":51.5,"y":150},{"s":3,"x":52,"y":152},{"s":3,"x":52.5,"y":151},{"s":3,"x":53,"y":153},{"s":3,"x":53.5,"y":155},{"s":3,"x":54,"y":152},{"s":3,"x":54.5,"y":151},{"s":3,"x":55,"y":152},{"s":3,"x":55.5,"y":150},{"s":3,"x":56,"y":152},{"s":3,"x":56.5,"y":151},{"s":3,"x":57,"y":152},{"s":3,"x":57.5,"y":153},{"s":3,"x":58,"y":152},{"s":3,"x":58.5,"y":151},{"s":3,"x":59,"y":153},{"s":3,"x":59.5,"y":152},{"s":3,"x":60,"y":154},{"s":3,"x":60.5,"y":151},{"s":3,"x":61,"y":150},{"s":3,"x":61.5,"y":152},{"s":3,"x":62,"y":150},{"s":3,"x":62.5,"y":151},{"s":3,"x":63,"y":149},{"s":3,"x":63.5,"y":151},{"s":3,"x":64,"y":150},{"s":3,"x":64.5,"y":152},{"s":3,"x":65,"y":150},{"s":3,"x":65.5,"y":151},{"s":3,"x":66,"y":149},{"s":3,"x":66.5,"y":151},{"s":3,"x":67,"y":150},{"s":3,"x":67.5,"y":152},{"s":3,"x":68,"y":150},{"s":3,"x":68.5,"y":151},{"s":3,"x":69,"y":149},{"s":3,"x":69.5,"y":151},{"s":3,"x":70,"y":150},{"s":3,"x":70.5,"y":152},{"s":3,"x":71,"y":150},{"s":3,"x":71.5,"y":151},{"s":3,"x":72,"y":149},{"s":3,"x":72.5,"y":151},{"s":3,"x":73,"y":150},{"s":3,"x":73.5,"y":151},{"s":3,"x":74,"y":149},{"s":3,"x":74.5,"y":151},{"s":3,"x":75,"y":150},{"s":3,"x":75.5,"y":152},{"s":3,"x":76,"y":150},{"s":3,"x":76.5,"y":151},{"s":3,"x":77,"y":149},{"s":3,"x":77.5,"y":151},{"s":3,"x":78,"y":150},{"s":3,"x":78.5,"y":151},{"s":3,"x":79,"y":149},{"s":3,"x":79.5,"y":151},{"s":3,"x":80,"y":150},
{"s":4,"x":10,"y":95},{"s":4,"x":10.5,"y":93},{"s":4,"x":11,"y":96},{"s":4,"x":11.5,"y":94},{"s":4,"x":12,"y":96},{"s":4,"x":12.5,"y":93},{"s":4,"x":13,"y":95},{"s":4,"x":13.5,"y":93},{"s":4,"x":14,"y":95},{"s":4,"x":14.5,"y":92},{"s":4,"x":15,"y":94},{"s":4,"x":15.5,"y":92},{"s":4,"x":16,"y":91},{"s":4,"x":16.5,"y":93},{"s":4,"x":17,"y":94},{"s":4,"x":17.5,"y":96},{"s":4,"x":18,"y":97},{"s":4,"x":18.5,"y":102},{"s":4,"x":18.8,"y":111},{"s":4,"x":19.1,"y":103},{"s":4,"x":19.5,"y":96},{"s":4,"x":20,"y":97},{"s":4,"x":20.5,"y":95},{"s":4,"x":21,"y":98},{"s":4,"x":21.5,"y":96},{"s":4,"x":21.9,"y":103},{"s":4,"x":22.2,"y":96},{"s":4,"x":22.5,"y":97},{"s":4,"x":23,"y":99},{"s":4,"x":23.5,"y":97},{"s":4,"x":24,"y":99},{"s":4,"x":24.5,"y":97},{"s":4,"x":25,"y":98},{"s":4,"x":25.5,"y":96},{"s":4,"x":26,"y":99},{"s":4,"x":26.5,"y":97},{"s":4,"x":27,"y":98},{"s":4,"x":27.5,"y":96},{"s":4,"x":28,"y":97},{"s":4,"x":28.5,"y":95},{"s":4,"x":28.65,"y":98},{"s":4,"x":28.8,"y":150},{"s":4,"x":28.95,"y":99},{"s":4,"x":29.1,"y":96},{"s":4,"x":29.5,"y":94},{"s":4,"x":30,"y":95},{"s":4,"x":30.4,"y":94},{"s":4,"x":30.6,"y":103},{"s":4,"x":30.8,"y":95},{"s":4,"x":31,"y":94},{"s":4,"x":31.5,"y":93},{"s":4,"x":32,"y":95},{"s":4,"x":32.5,"y":93},{"s":4,"x":33,"y":94},{"s":4,"x":33.5,"y":92},{"s":4,"x":34,"y":94},{"s":4,"x":34.5,"y":96},{"s":4,"x":35,"y":93},{"s":4,"x":35.5,"y":91},{"s":4,"x":36,"y":93},{"s":4,"x":36.5,"y":91},{"s":4,"x":37,"y":92},{"s":4,"x":37.5,"y":90},{"s":4,"x":38,"y":92},{"s":4,"x":38.5,"y":90},{"s":4,"x":39,"y":92},{"s":4,"x":39.5,"y":90},{"s":4,"x":40,"y":91},{"s":4,"x":40.5,"y":89},{"s":4,"x":41,"y":91},{"s":4,"x":41.5,"y":89},{"s":4,"x":42,"y":91},{"s":4,"x":42.5,"y":90},{"s":4,"x":43,"y":91},{"s":4,"x":43.5,"y":89},{"s":4,"x":44,"y":91},{"s":4,"x":44.5,"y":89},{"s":4,"x":45,"y":90},{"s":4,"x":45.5,"y":88},{"s":4,"x":46,"y":90},{"s":4,"x":46.5,"y":89},{"s":4,"x":47,"y":91},{"s":4,"x":47.5,"y":89},{"s":4,"x":48,"y":90},{"s":4,"x":48.5,"y":88},{"s":4,"x":49,"y":90},{"s":4,"x":49.5,"y":88},{"s":4,"x":50,"y":91},{"s":4,"x":50.5,"y":89},{"s":4,"x":51,"y":90},{"s":4,"x":51.5,"y":88},{"s":4,"x":52,"y":90},{"s":4,"x":52.5,"y":89},{"s":4,"x":53,"y":91},{"s":4,"x":53.3,"y":95},{"s":4,"x":53.7,"y":90},{"s":4,"x":54,"y":89},{"s":4,"x":54.5,"y":90},{"s":4,"x":55,"y":88},{"s":4,"x":55.5,"y":90},{"s":4,"x":56,"y":89},{"s":4,"x":56.5,"y":91},{"s":4,"x":57,"y":90},{"s":4,"x":57.5,"y":91},{"s":4,"x":58,"y":89},{"s":4,"x":58.5,"y":90},{"s":4,"x":59,"y":91},{"s":4,"x":59.5,"y":89},{"s":4,"x":60,"y":90},{"s":4,"x":60.5,"y":88},{"s":4,"x":61,"y":90},{"s":4,"x":61.5,"y":88},{"s":4,"x":62,"y":89},{"s":4,"x":62.5,"y":88},{"s":4,"x":63,"y":90},{"s":4,"x":63.5,"y":88},{"s":4,"x":64,"y":89},{"s":4,"x":64.5,"y":87},{"s":4,"x":65,"y":89},{"s":4,"x":65.5,"y":88},{"s":4,"x":66,"y":90},{"s":4,"x":66.5,"y":88},{"s":4,"x":67,"y":89},{"s":4,"x":67.5,"y":87},{"s":4,"x":68,"y":89},{"s":4,"x":68.5,"y":88},{"s":4,"x":69,"y":90},{"s":4,"x":69.5,"y":88},{"s":4,"x":70,"y":89},{"s":4,"x":70.5,"y":87},{"s":4,"x":71,"y":89},{"s":4,"x":71.5,"y":88},{"s":4,"x":72,"y":89},{"s":4,"x":72.5,"y":87},{"s":4,"x":73,"y":89},{"s":4,"x":73.5,"y":88},{"s":4,"x":74,"y":89},{"s":4,"x":74.5,"y":87},{"s":4,"x":75,"y":89},{"s":4,"x":75.5,"y":88},{"s":4,"x":76,"y":89},{"s":4,"x":76.5,"y":87},{"s":4,"x":77,"y":89},{"s":4,"x":77.5,"y":88},{"s":4,"x":78,"y":89},{"s":4,"x":78.5,"y":87},{"s":4,"x":79,"y":88},{"s":4,"x":79.5,"y":87},{"s":4,"x":80,"y":88},
{"s":5,"x":10,"y":33},{"s":5,"x":10.5,"y":31},{"s":5,"x":11,"y":34},{"s":5,"x":11.5,"y":32},{"s":5,"x":12,"y":33},{"s":5,"x":12.5,"y":31},{"s":5,"x":13,"y":33},{"s":5,"x":13.5,"y":31},{"s":5,"x":14,"y":32},{"s":5,"x":14.5,"y":30},{"s":5,"x":15,"y":32},{"s":5,"x":15.5,"y":31},{"s":5,"x":15.8,"y":38},{"s":5,"x":16.1,"y":31},{"s":5,"x":16.5,"y":32},{"s":5,"x":17,"y":34},{"s":5,"x":17.5,"y":33},{"s":5,"x":18,"y":35},{"s":5,"x":18.5,"y":41},{"s":5,"x":18.8,"y":48},{"s":5,"x":19.1,"y":44},{"s":5,"x":19.5,"y":36},{"s":5,"x":20,"y":35},{"s":5,"x":20.5,"y":37},{"s":5,"x":21,"y":35},{"s":5,"x":21.5,"y":37},{"s":5,"x":22,"y":36},{"s":5,"x":22.5,"y":38},{"s":5,"x":23,"y":36},{"s":5,"x":23.5,"y":38},{"s":5,"x":24,"y":37},{"s":5,"x":24.5,"y":38},{"s":5,"x":25,"y":37},{"s":5,"x":25.5,"y":38},{"s":5,"x":26,"y":36},{"s":5,"x":26.5,"y":38},{"s":5,"x":26.7,"y":45},{"s":5,"x":27,"y":37},{"s":5,"x":27.3,"y":40},{"s":5,"x":27.6,"y":36},{"s":5,"x":28,"y":35},{"s":5,"x":28.5,"y":34},{"s":5,"x":28.65,"y":37},{"s":5,"x":28.8,"y":77},{"s":5,"x":28.95,"y":38},{"s":5,"x":29.1,"y":36},{"s":5,"x":29.5,"y":33},{"s":5,"x":30,"y":34},{"s":5,"x":30.5,"y":33},{"s":5,"x":31,"y":34},{"s":5,"x":31.5,"y":33},{"s":5,"x":31.8,"y":41},{"s":5,"x":32.2,"y":33},{"s":5,"x":32.5,"y":34},{"s":5,"x":33,"y":32},{"s":5,"x":33.5,"y":34},{"s":5,"x":34,"y":33},{"s":5,"x":34.5,"y":35},{"s":5,"x":35,"y":33},{"s":5,"x":35.5,"y":34},{"s":5,"x":36,"y":32},{"s":5,"x":36.5,"y":33},{"s":5,"x":37,"y":31},{"s":5,"x":37.5,"y":33},{"s":5,"x":38,"y":31},{"s":5,"x":38.5,"y":32},{"s":5,"x":39,"y":31},{"s":5,"x":39.5,"y":32},{"s":5,"x":40,"y":34},{"s":5,"x":40.5,"y":31},{"s":5,"x":41,"y":32},{"s":5,"x":41.5,"y":30},{"s":5,"x":42,"y":32},{"s":5,"x":42.5,"y":30},{"s":5,"x":43,"y":32},{"s":5,"x":43.5,"y":30},{"s":5,"x":44,"y":31},{"s":5,"x":44.5,"y":30},{"s":5,"x":45,"y":32},{"s":5,"x":45.5,"y":30},{"s":5,"x":46,"y":31},{"s":5,"x":46.5,"y":32},{"s":5,"x":47,"y":33},{"s":5,"x":47.5,"y":31},{"s":5,"x":48,"y":30},{"s":5,"x":48.5,"y":31},{"s":5,"x":49,"y":30},{"s":5,"x":49.5,"y":31},{"s":5,"x":50,"y":30},{"s":5,"x":50.5,"y":31},{"s":5,"x":51,"y":30},{"s":5,"x":51.5,"y":31},{"s":5,"x":52,"y":30},{"s":5,"x":52.5,"y":31},{"s":5,"x":53,"y":32},{"s":5,"x":53.3,"y":34},{"s":5,"x":53.7,"y":31},{"s":5,"x":54,"y":30},{"s":5,"x":54.5,"y":31},{"s":5,"x":55,"y":30},{"s":5,"x":55.5,"y":31},{"s":5,"x":56,"y":30},{"s":5,"x":56.5,"y":31},{"s":5,"x":57,"y":30},{"s":5,"x":57.5,"y":31},{"s":5,"x":58,"y":30},{"s":5,"x":58.5,"y":31},{"s":5,"x":59,"y":30},{"s":5,"x":59.5,"y":31},{"s":5,"x":60,"y":30},{"s":5,"x":60.5,"y":31},{"s":5,"x":61,"y":29},{"s":5,"x":61.5,"y":30},{"s":5,"x":62,"y":29},{"s":5,"x":62.5,"y":31},{"s":5,"x":63,"y":29},{"s":5,"x":63.5,"y":30},{"s":5,"x":64,"y":29},{"s":5,"x":64.5,"y":30},{"s":5,"x":65,"y":28},{"s":5,"x":65.5,"y":30},{"s":5,"x":66,"y":29},{"s":5,"x":66.5,"y":30},{"s":5,"x":67,"y":29},{"s":5,"x":67.5,"y":30},{"s":5,"x":68,"y":28},{"s":5,"x":68.5,"y":30},{"s":5,"x":69,"y":29},{"s":5,"x":69.5,"y":30},{"s":5,"x":70,"y":28},{"s":5,"x":70.5,"y":30},{"s":5,"x":71,"y":29},{"s":5,"x":71.5,"y":30},{"s":5,"x":72,"y":28},{"s":5,"x":72.5,"y":30},{"s":5,"x":73,"y":29},{"s":5,"x":73.5,"y":28},{"s":5,"x":74,"y":30},{"s":5,"x":74.5,"y":28},{"s":5,"x":75,"y":29},{"s":5,"x":75.5,"y":28},{"s":5,"x":76,"y":30},{"s":5,"x":76.5,"y":28},{"s":5,"x":77,"y":29},{"s":5,"x":77.5,"y":28},{"s":5,"x":78,"y":30},{"s":5,"x":78.5,"y":28},{"s":5,"x":79,"y":29},{"s":5,"x":79.5,"y":28},{"s":5,"x":80,"y":29}
]
},
"hconcat":[
{
"width":546,"height":406,
"encoding":{
"x":{"field":"x","type":"quantitative","scale":{"domain":[10,80],"nice":false,"zero":false},"axis":{"title":"2θ (graus)","titleFontSize":29,"titleFontWeight":"bold","titleColor":"black","titlePadding":4,"values":[10,15,20,25,30,35,40,45,50,55,60,65,70,75,80],"labelExpr":"datum.value % 10 === 0 ? datum.label : ''","labelFontSize":24,"labelFontWeight":"bold","labelColor":"black","labelFlush":false,"labelOverlap":false,"labelPadding":5,"tickSize":5,"tickColor":"black","domainColor":"black","domainWidth":1.5,"grid":false}},
"y":{"field":"y","type":"quantitative","scale":{"domain":[0,406],"nice":false},"axis":{"title":"Intensidade (u.a.)","titleFontSize":35,"titleFontWeight":"bold","titleColor":"black","titlePadding":12,"labels":false,"values":[27,54,81,108,135,162,189,216,243,270,297,324,351,378],"tickSize":-4,"tickColor":"#444","domainColor":"black","domainWidth":1.5,"grid":false}}
},
"layer":[
{"data":{"name":"A"},"mark":{"type":"line","color":"black","strokeWidth":1.4},"encoding":{"detail":{"field":"s","type":"nominal"}}},
{"data":{"values":[{"t":"(101)","x":19.1,"y":325},{"t":"(112)","x":29,"y":383},{"t":"(004)","x":30.6,"y":310},{"t":"(020)","x":34.5,"y":303},{"t":"(211)","x":40,"y":298}]},"mark":{"type":"text","angle":270,"fontSize":18,"align":"center","baseline":"middle"},"encoding":{"text":{"field":"t"}}},
{"data":{"values":[{"t":"30 Camadas","x":77.7,"y":241},{"t":"20 Camadas","x":77.7,"y":178},{"t":"10 Camadas","x":77.7,"y":121},{"t":"5 Camadas","x":77.7,"y":68},{"t":"2 Camadas","x":77.7,"y":18}]},"mark":{"type":"text","fontSize":21,"align":"right","baseline":"middle"},"encoding":{"text":{"field":"t"}}},
{"data":{"values":[{"t":"(A)","x":11.4,"y":383}]},"mark":{"type":"text","fontSize":20,"align":"left","baseline":"middle"},"encoding":{"text":{"field":"t"}}}
]
},
{
"width":546,"height":406,
"encoding":{
"x":{"field":"x","type":"quantitative","scale":{"domain":[10,80],"nice":false,"zero":false},"axis":{"title":"2θ (graus)","titleFontSize":29,"titleFontWeight":"bold","titleColor":"black","titlePadding":4,"values":[10,15,20,25,30,35,40,45,50,55,60,65,70,75,80],"labelExpr":"datum.value % 10 === 0 ? datum.label : ''","labelFontSize":24,"labelFontWeight":"bold","labelColor":"black","labelFlush":false,"labelOverlap":false,"labelPadding":5,"tickSize":5,"tickColor":"black","domainColor":"black","domainWidth":1.5,"grid":false}},
"y":{"field":"y","type":"quantitative","scale":{"domain":[0,406],"nice":false},"axis":{"title":"Intensidade (u.a.)","titleFontSize":35,"titleFontWeight":"bold","titleColor":"black","titlePadding":12,"labels":false,"values":[27,54,81,108,135,162,189,216,243,270,297,324,351,378],"tickSize":-4,"tickColor":"#444","domainColor":"black","domainWidth":1.5,"grid":false}}
},
"layer":[
{"data":{"name":"B"},"mark":{"type":"line","color":"black","strokeWidth":1.3},"encoding":{"detail":{"field":"s","type":"nominal"}}},
{"data":{"values":[{"x":34.3,"y":287,"x2":34.3,"y2":322},{"x":35.4,"y":288,"x2":37.1,"y2":322}]},"mark":{"type":"rule","color":"black","strokeWidth":1},"encoding":{"x2":{"field":"x2"},"y2":{"field":"y2"}}},
{"data":{"values":[{"x":34.3,"y":325}]},"mark":{"type":"point","shape":"triangle-up","filled":true,"color":"black","size":40,"opacity":1},"encoding":{}},
{"data":{"values":[{"x":37.2,"y":325}]},"mark":{"type":"point","shape":"triangle-up","filled":true,"color":"black","size":40,"opacity":1,"angle":21},"encoding":{}},
{"data":{"values":[{"t":"(101)","x":19.1,"y":329},{"t":"(112)","x":28.7,"y":382},{"t":"(004)","x":30.8,"y":318},{"t":"(200)","x":34.3,"y":349},{"t":"(020)","x":37.1,"y":351},{"t":"(211)","x":40,"y":308},{"t":"(220)","x":50.3,"y":308},{"t":"(116)","x":53.3,"y":302}]},"mark":{"type":"text","angle":270,"fontSize":18,"align":"center","baseline":"middle"},"encoding":{"text":{"field":"t"}}},
{"data":{"values":[{"t":"5 horas","x":78.4,"y":258},{"t":"4 horas","x":78.4,"y":200},{"t":"3 horas","x":78.4,"y":135},{"t":"2 horas","x":78.4,"y":75},{"t":"1 hora","x":78.4,"y":13}]},"mark":{"type":"text","fontSize":17,"align":"right","baseline":"middle"},"encoding":{"text":{"field":"t"}}},
{"data":{"values":[{"t":"(B)","x":11.8,"y":384}]},"mark":{"type":"text","fontSize":20,"align":"left","baseline":"middle"},"encoding":{"text":{"field":"t"}}}
]
}
],
"spacing":58,
"bounds":"flush"
}
